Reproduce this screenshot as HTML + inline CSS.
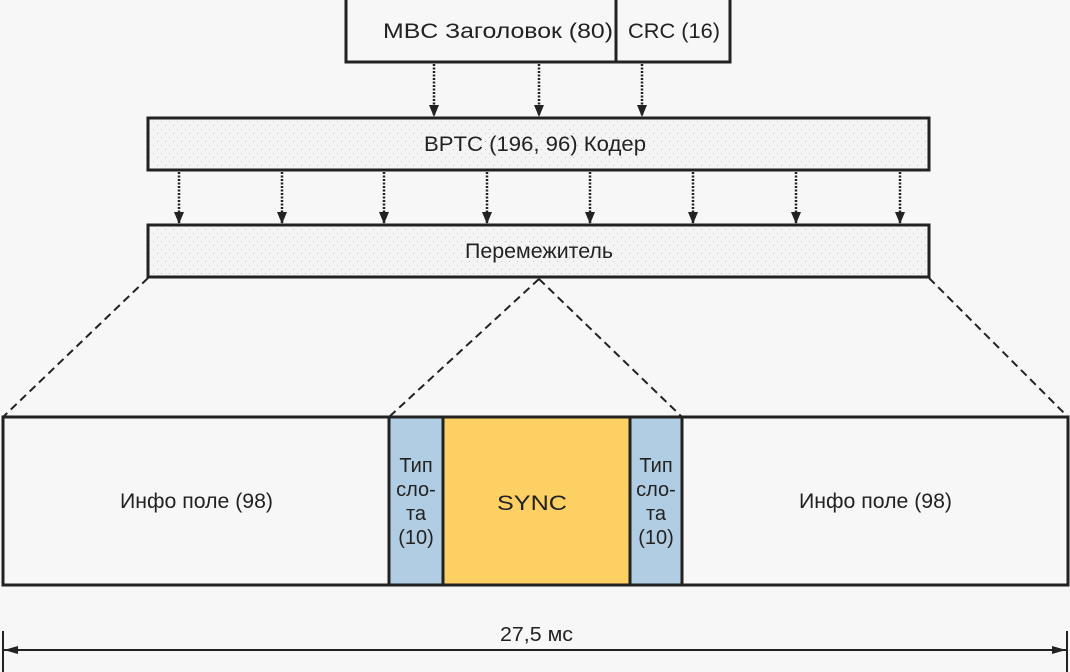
<!DOCTYPE html>
<html><head><meta charset="utf-8"><style>
html,body{margin:0;padding:0;background:#f7f7f7;}
svg{display:block;}
text{font-family:"Liberation Sans",sans-serif;fill:#222;}
</style></head><body>
<svg width="1070" height="672" viewBox="0 0 1070 672" xmlns="http://www.w3.org/2000/svg">
<defs>
<pattern id="dots" width="8" height="8" patternUnits="userSpaceOnUse">
<rect width="8" height="8" fill="#f4f4f4"/>
<rect x="1" y="1" width="1" height="1" fill="#c4c4c4"/>
<rect x="5" y="5" width="1" height="1" fill="#c0c8d4"/>
</pattern>
<marker id="ah" markerWidth="12" markerHeight="10" refX="12" refY="5" orient="auto" markerUnits="userSpaceOnUse">
<path d="M0,0 L12,5 L0,10 Z" fill="#222"/>
</marker>
<marker id="dh" markerWidth="14" markerHeight="8" refX="14" refY="4" orient="auto-start-reverse" markerUnits="userSpaceOnUse">
<path d="M0,0 L14,4 L0,8 Z" fill="#222"/>
</marker>
</defs>
<rect width="1070" height="672" fill="#f7f7f7"/>
<rect x="346" y="-2" width="384" height="64" fill="#f7f7f7" stroke="#222" stroke-width="3"/>
<line x1="616" y1="0" x2="616" y2="62" stroke="#222" stroke-width="3"/>
<g font-size="21" lengthAdjust="spacingAndGlyphs">
<text x="383" y="38" textLength="230" lengthAdjust="spacingAndGlyphs">MBC Заголовок (80)</text>
<text x="628" y="38" textLength="92" lengthAdjust="spacingAndGlyphs">CRC (16)</text>
</g>
<g stroke="#222" stroke-width="2.5" stroke-dasharray="2,1.5" marker-end="url(#ah)">
<line x1="434" y1="64" x2="434" y2="117"/>
<line x1="539" y1="64" x2="539" y2="117"/>
<line x1="642" y1="64" x2="642" y2="117"/>
</g>
<rect x="148" y="118" width="781" height="52" fill="url(#dots)" stroke="#222" stroke-width="3"/>
<text x="424" y="151" font-size="21" textLength="222" lengthAdjust="spacingAndGlyphs">BPTC (196, 96) Кодер</text>
<g stroke="#222" stroke-width="2.5" stroke-dasharray="2,1.5" marker-end="url(#ah)">
<line x1="179" y1="172" x2="179" y2="224"/>
<line x1="282" y1="172" x2="282" y2="224"/>
<line x1="384" y1="172" x2="384" y2="224"/>
<line x1="487" y1="172" x2="487" y2="224"/>
<line x1="590" y1="172" x2="590" y2="224"/>
<line x1="693" y1="172" x2="693" y2="224"/>
<line x1="796" y1="172" x2="796" y2="224"/>
<line x1="900" y1="172" x2="900" y2="224"/>
</g>
<rect x="148" y="225" width="781" height="52" fill="url(#dots)" stroke="#222" stroke-width="3"/>
<text x="465" y="258" font-size="21" textLength="148" lengthAdjust="spacingAndGlyphs">Перемежитель</text>
<g stroke="#222" stroke-width="2" stroke-dasharray="8,5" fill="none">
<line x1="148" y1="278" x2="3" y2="417"/>
<line x1="929" y1="278" x2="1068" y2="417"/>
<line x1="539" y1="279" x2="389" y2="417"/>
<line x1="539" y1="279" x2="682" y2="417"/>
</g>
<rect x="3" y="417" width="1065" height="168" fill="#f7f7f7" stroke="#222" stroke-width="3"/>
<rect x="389" y="417" width="54" height="168" fill="#b1cde3" stroke="#222" stroke-width="3"/>
<rect x="443" y="417" width="187" height="168" fill="#fdd064" stroke="#222" stroke-width="3"/>
<rect x="630" y="417" width="52" height="168" fill="#b1cde3" stroke="#222" stroke-width="3"/>
<text x="120" y="508" font-size="21" textLength="153" lengthAdjust="spacingAndGlyphs">Инфо поле (98)</text>
<text x="799" y="508" font-size="21" textLength="153" lengthAdjust="spacingAndGlyphs">Инфо поле (98)</text>
<text x="497" y="510" font-size="21" textLength="70" lengthAdjust="spacingAndGlyphs">SYNC</text>
<g font-size="20" text-anchor="middle">
<text x="416" y="472">Тип</text><text x="416" y="496">сло-</text><text x="416" y="520">та</text><text x="416" y="544">(10)</text>
<text x="656" y="472">Тип</text><text x="656" y="496">сло-</text><text x="656" y="520">та</text><text x="656" y="544">(10)</text>
</g>
<line x1="3" y1="631" x2="3" y2="672" stroke="#222" stroke-width="2"/>
<line x1="1067" y1="631" x2="1067" y2="672" stroke="#222" stroke-width="2"/>
<line x1="4" y1="650" x2="1066" y2="650" stroke="#222" stroke-width="2" marker-start="url(#dh)" marker-end="url(#dh)"/>
<text x="500" y="641" font-size="20" textLength="73" lengthAdjust="spacingAndGlyphs">27,5 мс</text>
</svg>
</body></html>
